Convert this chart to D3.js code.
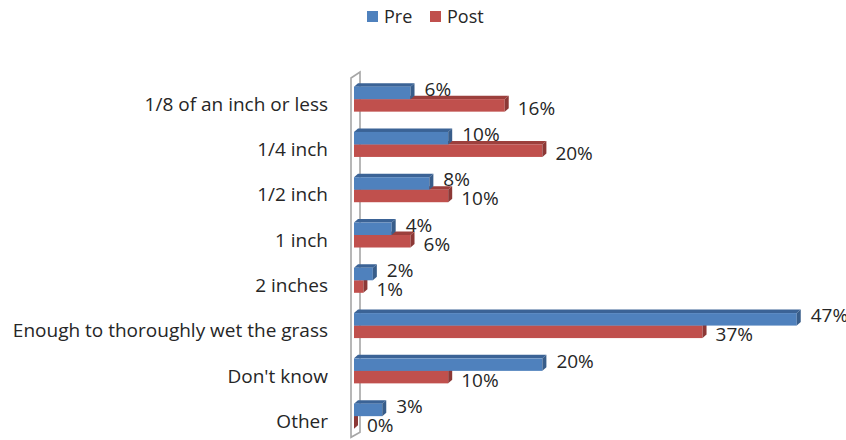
<!DOCTYPE html>
<html>
<head>
<meta charset="utf-8">
<script src="https://cdn.jsdelivr.net/npm/d3@7"></script>
<style>
  body { margin: 0; background: #fff; }
  text { font-family: "Open Sans", Lato, sans-serif; fill: #262626; }
</style>
</head>
<body>
<div id="chart"></div>
<script>
// data
const categories = ["1/8 of an inch or less", "1/4 inch", "1/2 inch", "1 inch", "2 inches",
  "Enough to thoroughly wet the grass", "Don't know", "Other"];
const series = ["Pre", "Post"];
const preValues = [0.06, 0.10, 0.08, 0.04, 0.02, 0.47, 0.20, 0.03];
const postValues = [0.16, 0.20, 0.10, 0.06, 0.01, 0.37, 0.10, 0.00];

const width = 846;
const height = 440;
const fontSize = 19;

// colours: front, top face, side face
const colors = {
  Pre: { front: "#4f81bd", top: "#3b6396", side: "#385d8a" },
  Post: { front: "#c0504d", top: "#9c3f3c", side: "#8c3836" }
};
const depth = { dx: 4, dy: -3.5 };

const svg = d3.select("#chart")
  .append("svg")
  .attr("width", width)
  .attr("height", height);

// scales
const x = d3.scaleLinear().domain([0, 0.5]).range([354, 825]);
const y = d3.scaleBand().domain(categories).range([77, 439.3]);
const ySeries = d3.scaleBand().domain(series).range([-13, 12]);

// back wall (3D slab)
const wx = x(0) - 3, wTop = y.range()[0] + 1, wBot = y.range()[1] - 2;
svg.append("path")
  .attr("d", `M${wx},${wBot} L${wx},${wTop} L${wx + 9},${wTop - 6} L${wx + 9},${wBot - 5} Z`)
  .attr("fill", "#fff")
  .attr("stroke", "#a6a6a6")
  .attr("stroke-width", 1.6);

// rows
const rows = categories.map((c, i) => ({ cat: c, Pre: preValues[i], Post: postValues[i] }));

function drawBar(g, name, v, cy) {
  const x0 = x(0), x1 = x(v);
  const y0 = cy + ySeries(name), y1 = y0 + ySeries.bandwidth();
  const col = colors[name];
  // top face
  g.append("path")
    .attr("d", `M${x0},${y0} L${x1},${y0} L${x1 + depth.dx},${y0 + depth.dy} L${x0 + depth.dx},${y0 + depth.dy} Z`)
    .attr("fill", col.top);
  // front
  g.append("rect")
    .attr("x", x0).attr("y", y0)
    .attr("width", x1 - x0).attr("height", y1 - y0)
    .attr("fill", col.front);
  // side face
  g.append("path")
    .attr("d", `M${x1},${y0} L${x1 + depth.dx},${y0 + depth.dy} L${x1 + depth.dx},${y1 + depth.dy} L${x1},${y1} Z`)
    .attr("fill", col.side);
}

const rowG = svg.selectAll(".row")
  .data(rows)
  .enter()
  .append("g")
  .attr("class", "row");

rowG.each(function (d) {
  const g = d3.select(this);
  const cy = y(d.cat) + y.bandwidth() / 2;
  // Post first so the Pre bar hides its top face
  drawBar(g, "Post", d.Post, cy);
  drawBar(g, "Pre", d.Pre, cy);

  g.append("text")
    .attr("x", x(d.Pre) + 14)
    .attr("y", cy - 10.5)
    .attr("dy", "0.35em")
    .attr("font-size", fontSize)
    .text(d3.format(".0%")(d.Pre));

  g.append("text")
    .attr("x", x(d.Post) + 13)
    .attr("y", cy + 8.5)
    .attr("dy", "0.35em")
    .attr("font-size", fontSize)
    .text(d3.format(".0%")(d.Post));

  // category label
  g.append("text")
    .attr("x", 328)
    .attr("y", cy + 4.5)
    .attr("dy", "0.35em")
    .attr("text-anchor", "end")
    .attr("font-size", fontSize)
    .text(d.cat);
});

// legend
const legendX = [367, 430];
const legend = svg.selectAll(".legend")
  .data(series)
  .enter()
  .append("g")
  .attr("class", "legend")
  .attr("transform", (d, i) => `translate(${legendX[i]}, 11)`);

legend.append("rect")
  .attr("width", 11)
  .attr("height", 11)
  .attr("fill", (d) => colors[d].front);

legend.append("text")
  .attr("x", 17)
  .attr("y", 6)
  .attr("dy", "0.35em")
  .attr("font-size", 18)
  .text((d) => d);
</script>
</body>
</html>
